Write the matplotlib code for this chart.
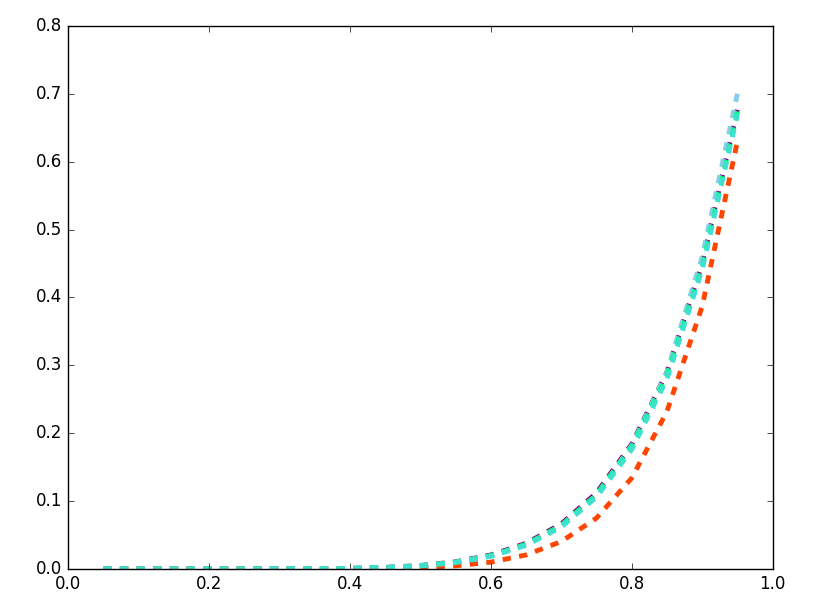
import matplotlib
matplotlib.use("Agg")
import matplotlib.pyplot as plt

plt.style.use("classic")

x = [0.05, 0.10, 0.15, 0.20, 0.25, 0.30, 0.35, 0.40, 0.45, 0.50,
     0.55, 0.60, 0.65, 0.70, 0.75, 0.80, 0.85, 0.90, 0.95]

purple_y = [0.0, 0.0, 0.0, 0.0, 0.0, 0.0001, 0.0003, 0.0009, 0.0023, 0.0051,
            0.0105, 0.0206, 0.0377, 0.0663, 0.112, 0.184, 0.290, 0.450, 0.677]
skyblue_y = [0.0, 0.0, 0.0, 0.0, 0.0, 0.0001, 0.0003, 0.0008, 0.0021, 0.0048,
             0.0100, 0.0195, 0.0360, 0.0640, 0.109, 0.182, 0.290, 0.460, 0.700]
orangered_y = [0.0, 0.0, 0.0, 0.0, 0.0, 0.0, 0.0001, 0.0003, 0.0008, 0.0020,
               0.0046, 0.0101, 0.0207, 0.0404, 0.075, 0.134, 0.232, 0.387, 0.630]
springgreen_y = [0.0, 0.0, 0.0, 0.0, 0.0, 0.0001, 0.0003, 0.0009, 0.0022, 0.0048,
                 0.0100, 0.0196, 0.0362, 0.0640, 0.109, 0.180, 0.285, 0.445, 0.674]
turquoise_y = [0.0, 0.0, 0.0, 0.0, 0.0, 0.0001, 0.0003, 0.0008, 0.0020, 0.0045,
               0.0094, 0.0186, 0.0347, 0.0617, 0.106, 0.176, 0.280, 0.441, 0.670]

series = [
    (purple_y, "purple"),
    (skyblue_y, "skyblue"),
    (orangered_y, "orangered"),
    (springgreen_y, "springgreen"),
    (turquoise_y, "turquoise"),
]

fig = plt.figure(figsize=(8.31, 6.13), dpi=100, facecolor="white")
ax = fig.add_axes([0.0818, 0.0718, 0.848, 0.886])

for ys, c in series:
    ax.plot(x, ys, linestyle="--", color=c, linewidth=3.5)

ax.set_xlim(0.0, 1.0)
ax.set_ylim(0.0, 0.8)
ax.set_xticks([0.0, 0.2, 0.4, 0.6, 0.8, 1.0])
ax.set_yticks([0.0, 0.1, 0.2, 0.3, 0.4, 0.5, 0.6, 0.7, 0.8])
ax.tick_params(labelsize=12)

fig.savefig("out.png", dpi=100, facecolor="white")
